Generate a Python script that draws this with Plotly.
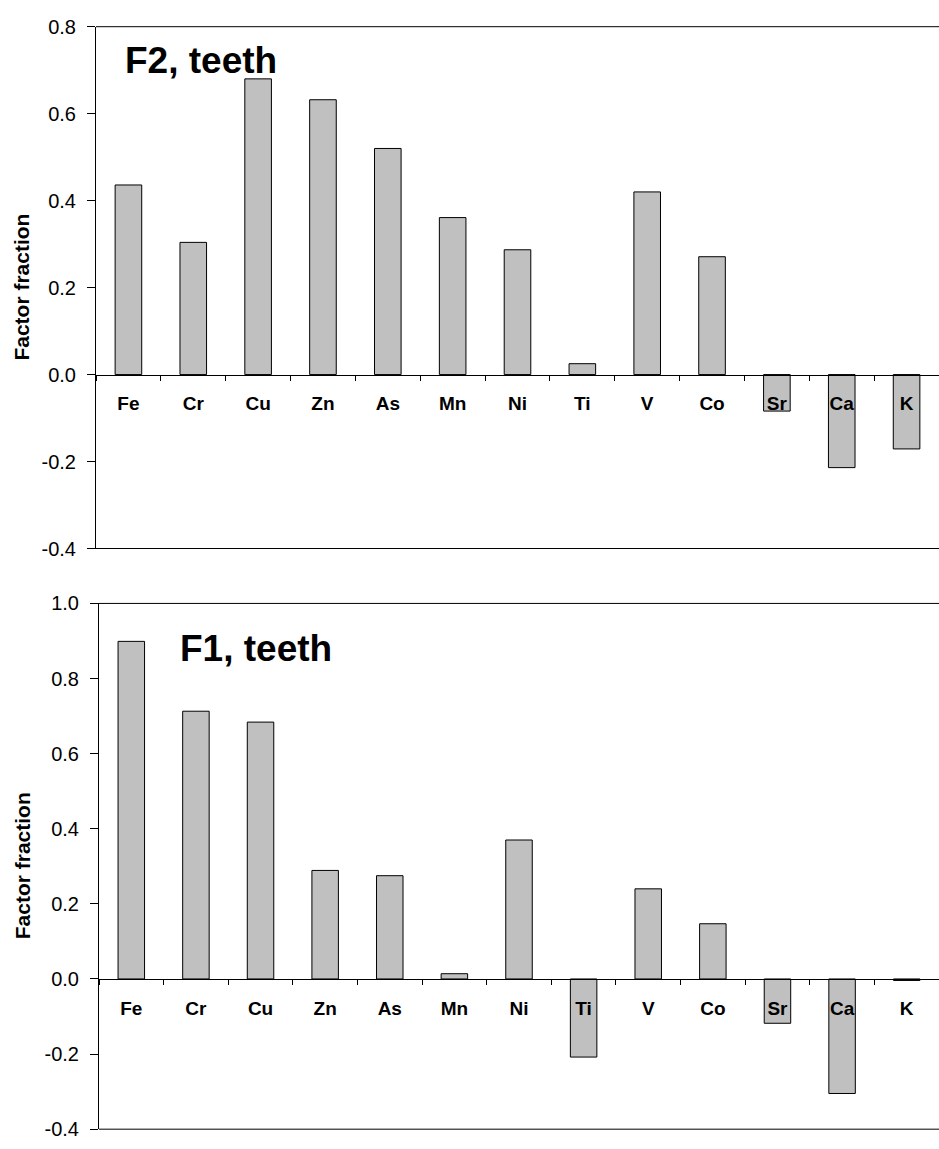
import plotly.graph_objects as go

elements = ["Fe", "Cr", "Cu", "Zn", "As", "Mn", "Ni", "Ti", "V", "Co", "Sr", "Ca", "K"]
f2_teeth = [0.436, 0.304, 0.680, 0.632, 0.520, 0.361, 0.287, 0.025, 0.420, 0.271, -0.084, -0.214, -0.171]
f1_teeth = [0.899, 0.713, 0.684, 0.289, 0.275, 0.014, 0.370, -0.208, 0.240, 0.147, -0.118, -0.305, -0.004]
f2_ticks = [-0.4, -0.2, 0.0, 0.2, 0.4, 0.6, 0.8]
f1_ticks = [-0.4, -0.2, 0.0, 0.2, 0.4, 0.6, 0.8, 1.0]

W, H = 939, 1149
FONT = "Liberation Sans, Arial, sans-serif"

panels = [
    dict(vals=f2_teeth, ticks=f2_ticks, title="F2, teeth", yrange=[-0.4, 0.8],
         px_left=96, px_top=16, px_bottom=548, title_xy=(0.125, 0.935)),
    dict(vals=f1_teeth, ticks=f1_ticks, title="F1, teeth", yrange=[-0.4, 1.0],
         px_left=99, px_top=604, px_bottom=1140, title_xy=(0.187, 0.915)),
]

fig = go.Figure()
annotations = []
shapes = []
for i, p in enumerate(panels, start=1):
    xa = "x" if i == 1 else f"x{i}"
    ya = "y" if i == 1 else f"y{i}"
    xdom = [p["px_left"] / W, 1.0]
    ydom = [1 - p["px_bottom"] / H, 1 - p["px_top"] / H]
    ymin, ymax = p["yrange"]
    zero_pos = ydom[0] + (0 - ymin) / (ymax - ymin) * (ydom[1] - ydom[0])

    fig.add_trace(go.Bar(
        x=elements, y=p["vals"], xaxis=xa, yaxis=ya,
        marker=dict(color="#C0C0C0", line=dict(color="black", width=1)),
        showlegend=False, hoverinfo="skip",
    ))

    xkey = "xaxis" if i == 1 else f"xaxis{i}"
    ykey = "yaxis" if i == 1 else f"yaxis{i}"
    fig.update_layout(**{
        xkey: dict(domain=xdom, anchor="free", position=zero_pos,
                   type="category", range=[-0.5, len(elements) - 0.5],
                   showline=True, linecolor="black", linewidth=1,
                   ticks="outside", tickson="boundaries", ticklen=5,
                   tickcolor="black", tickwidth=1,
                   ticklabelstandoff=12,
                   tickfont=dict(family=FONT, size=19, color="black", weight="bold"),
                   showgrid=False, zeroline=False, fixedrange=True),
        ykey: dict(domain=ydom, anchor=xa, range=p["yrange"],
                   tickmode="array", tickvals=p["ticks"],
                   ticktext=[f"{v:.1f}" for v in p["ticks"]],
                   ticks="outside", ticklen=8,
                   tickcolor="black", tickwidth=1,
                   ticklabelstandoff=7,
                   showline=True, linecolor="black", linewidth=1,
                   showgrid=False, zeroline=False,
                   tickfont=dict(family=FONT, size=20, color="black"),
                   fixedrange=True),
    })
    for yy in (0, 1):
        shapes.append(dict(type="line", xref=f"{xa} domain", yref=f"{ya} domain",
                           x0=0, x1=1, y0=yy, y1=yy,
                           line=dict(color="black", width=1)))
    annotations.append(dict(
        text=f"<b>{p['title']}</b>", xref=f"{xa} domain", yref=f"{ya} domain",
        x=p["title_xy"][0], y=p["title_xy"][1], xanchor="center", yanchor="middle",
        showarrow=False, font=dict(family=FONT, size=37, color="black")))
    annotations.append(dict(
        text="<b>Factor fraction</b>", xref="paper", yref=f"{ya} domain",
        x=22 / W, y=0.5, xanchor="center", yanchor="middle", textangle=-90,
        showarrow=False, font=dict(family=FONT, size=21, color="black")))

fig.update_layout(
    width=W, height=H,
    margin=dict(l=0, r=0, t=0, b=0),
    paper_bgcolor="white", plot_bgcolor="white",
    bargap=0.59,
    annotations=annotations, shapes=shapes,
    font=dict(family=FONT, color="black"),
)

fig.write_html("out.html", config={"displayModeBar": False},
               post_script="document.body.style.margin='0';document.body.style.overflow='hidden';")
